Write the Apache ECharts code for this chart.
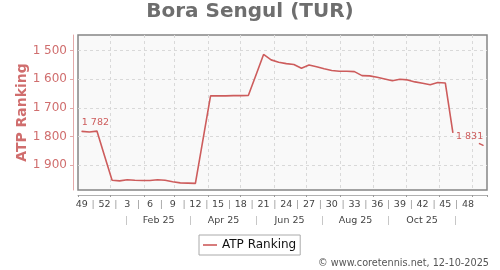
<!DOCTYPE html>
<html><head><meta charset="utf-8">
<script src="https://cdn.jsdelivr.net/npm/echarts@6/dist/echarts.min.js"></script>
<style>html,body{margin:0;padding:0;background:#fff}#c{width:500px;height:270px}</style>
</head><body><div id="c"></div>
<script>
// ---- data ----
const playerTitle = 'Bora Sengul (TUR)';
const seriesName = 'ATP Ranking';
const weekStarts = [
 '2024-12-02','2024-12-09','2024-12-16','2024-12-23','2024-12-30',
 '2025-01-06','2025-01-13','2025-01-20','2025-01-27',
 '2025-02-03','2025-02-10','2025-02-17','2025-02-24',
 '2025-03-03','2025-03-10','2025-03-17','2025-03-24','2025-03-31',
 '2025-04-07','2025-04-14','2025-04-21','2025-04-28',
 '2025-05-05','2025-05-12','2025-05-19','2025-05-26',
 '2025-06-02','2025-06-09','2025-06-16','2025-06-23','2025-06-30',
 '2025-07-07','2025-07-14','2025-07-21','2025-07-28',
 '2025-08-04','2025-08-11','2025-08-18','2025-08-25',
 '2025-09-01','2025-09-08','2025-09-15','2025-09-22','2025-09-29',
 '2025-10-06','2025-10-13','2025-10-20','2025-10-27',
 '2025-11-03','2025-11-10','2025-11-17','2025-12-04','2025-12-08'
];
const ranks = [
 1782,1784,1781,1867,1953,
 1955,1951,1953,1954,
 1954,1951,1953,1958,
 1962,1963,1964,1811,1658,
 1658,1658,1657,1657,
 1656,1585,1513,1532,
 1540,1545,1548,1561,1550,
 1556,1563,1569,1572,
 1572,1573,1587,1588,
 1593,1599,1605,1600,1602,
 1609,1614,1619,1611,
 1613,1787,null,1824,1831
];
const yTicks = [1500,1600,1700,1800,1900];
const yRange = [1445,1987];
const axisRange = ['2024-12-02','2025-12-15'];
const weekLabels = ['49','52','3','6','9','12','15','18','21','24','27','30','33','36','39','42','45','48'];
const weekLabelStarts = ['2024-12-02','2024-12-23','2025-01-13','2025-02-03','2025-02-24','2025-03-17',
 '2025-04-07','2025-04-28','2025-05-19','2025-06-09','2025-06-30','2025-07-21','2025-08-11',
 '2025-09-01','2025-09-22','2025-10-13','2025-11-03','2025-11-24'];
const monthLabels = ['Feb 25','Apr 25','Jun 25','Aug 25','Oct 25'];
const monthSeparators = ['2025-01-16','2025-03-16','2025-05-16','2025-07-16','2025-09-15','2025-11-16'];
const copyright = '\u00a9 www.coretennis.net, 12-10-2025';

// ---- helpers ----
const DAY = 86400000;
const ts = d => Date.parse(d + 'T00:00:00Z');
const mid = t => t + 3.5 * DAY;
const fmt = v => String(v).replace(/\B(?=(\d{3})+(?!\d))/g, ' ');
const xMin = ts(axisRange[0]), xMax = ts(axisRange[1]);
const weekLabelPos = weekLabelStarts.map(d => mid(ts(d)));
const weekSepPos = weekLabelPos.slice(1).map((v, i) => (v + weekLabelPos[i]) / 2);
const monthSepPos = monthSeparators.map(ts);
const monthLabelPos = monthSepPos.slice(1).map((v, i) => (v + monthSepPos[i]) / 2);
const lookup = (pos, texts) => v => {
  for (let i = 0; i < pos.length; i++) if (Math.abs(pos[i] - v) < DAY) return texts[i];
  return '';
};

const FONT = 'DejaVu Sans';
const LINE = '#cd5c5c';
const PINK = '#d06e6e';

const seriesData = weekStarts.map((d, i) => {
  const item = { value: [mid(ts(d)), ranks[i]] };
  if (i === 0 || i === weekStarts.length - 1) {
    item.symbol = 'circle';
    item.symbolSize = 1;
    item.label = {
      show: true, position: 'top', distance: 3,
      align: i === 0 ? 'left' : 'right',
      formatter: p => fmt(p.value[1]),
      color: LINE, fontSize: 9.5, fontFamily: FONT
    };
  }
  return item;
});

const labelAxis = (values, texts, margin, color) => ({
  type: 'value', gridIndex: 0, position: 'bottom', offset: 5,
  min: xMin, max: xMax,
  axisLine: { show: false }, axisTick: { show: false }, splitLine: { show: false },
  axisLabel: {
    customValues: values, formatter: lookup(values, texts), margin: margin,
    color: color, fontSize: 9.5, fontFamily: FONT
  }
});

const chart = echarts.init(document.getElementById('c'), null, { renderer: 'canvas' });
chart.setOption({
  useUTC: true,
  animation: false,
  backgroundColor: '#ffffff',
  textStyle: { fontFamily: FONT },
  title: [
    { text: playerTitle, left: 'center', top: 1.5, padding: 0,
      textStyle: { fontSize: 20, fontWeight: 'bold', color: '#6e6e6e', fontFamily: FONT } },
    { text: copyright, right: 11, top: 258, padding: 0,
      textStyle: { fontSize: 9.7, fontWeight: 'normal', color: '#555555', fontFamily: FONT } }
  ],
  legend: {
    data: [{ name: seriesName, icon: 'rect' }], left: 199, top: 235, padding: [4, 4, 4, 4],
    itemWidth: 14, itemHeight: 1.6, itemGap: 5,
    itemStyle: { color: LINE },
    borderColor: '#aaaaaa', borderWidth: 1, backgroundColor: '#ffffff',
    textStyle: { fontSize: 12, color: '#111111', fontFamily: FONT }
  },
  grid: {
    left: 78, top: 35, width: 409, height: 155,
    show: true, backgroundColor: '#f9f9f9', borderColor: '#858585', borderWidth: 1.5,
    containLabel: false, outerBoundsMode: 'none'
  },
  xAxis: [
    { type: 'time', gridIndex: 0, position: 'bottom', offset: 5,
      min: xMin, max: xMax, splitNumber: 12, maxInterval: 31 * DAY,
      axisLine: { show: true, lineStyle: { color: '#b0b0b0', width: 1 } },
      axisTick: { show: true, length: 2, lineStyle: { color: '#999999' } },
      axisLabel: { show: false },
      splitLine: { show: true, showMinLine: false, showMaxLine: false,
        lineStyle: { color: '#d9d9d9', type: [3, 3], width: 1 } } },
    labelAxis(weekLabelPos, weekLabels, 5, '#444444'),
    labelAxis(weekSepPos, weekSepPos.map(() => '|'), 5, '#999999'),
    labelAxis(monthLabelPos, monthLabels, 21, '#444444'),
    labelAxis(monthSepPos, monthSepPos.map(() => '|'), 21, '#bbbbbb')
  ],
  yAxis: {
    type: 'value', inverse: true, min: yRange[0], max: yRange[1],
    minInterval: 100, maxInterval: 100, offset: 5,
    name: seriesName, nameLocation: 'middle', nameGap: 44, nameMoveOverlap: false,
    nameTextStyle: { fontSize: 14, fontWeight: 'bold', color: PINK, fontFamily: FONT },
    axisLine: { show: true, lineStyle: { color: '#e3a9a9', width: 1 } },
    axisTick: { show: true, length: 3, customValues: yTicks, lineStyle: { color: '#e3a9a9' } },
    axisLabel: { customValues: yTicks,
      formatter: v => fmt(v), margin: 6, color: PINK, fontSize: 12, fontFamily: FONT },
    splitLine: { show: true,
      lineStyle: { color: '#d9d9d9', type: [3, 3], width: 1 } }
  },
  series: [{
    name: seriesName, type: 'line', xAxisIndex: 0, yAxisIndex: 0,
    symbol: 'none', connectNulls: false,
    lineStyle: { color: LINE, width: 1.6 },
    itemStyle: { color: LINE },
    data: seriesData
  }]
});
</script></body></html>
